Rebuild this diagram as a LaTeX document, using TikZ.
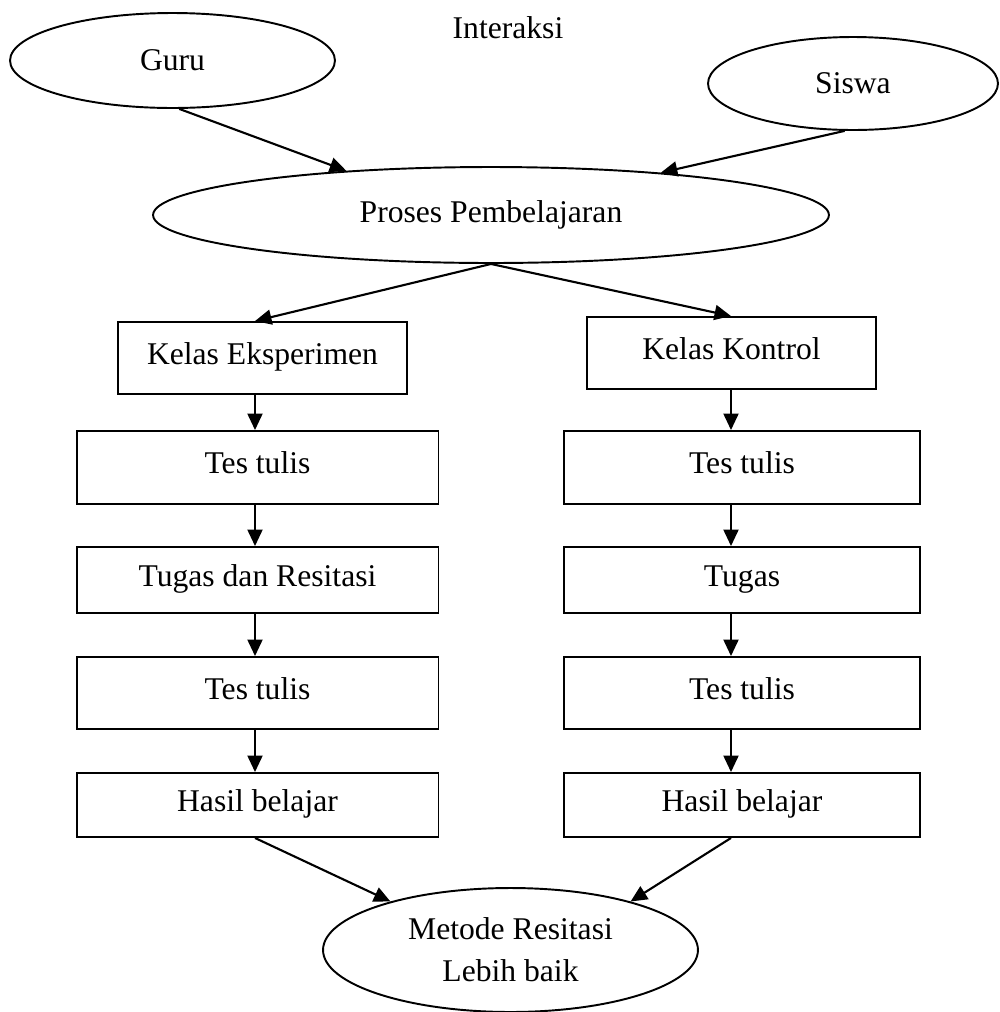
\documentclass[tikz,border=0pt]{standalone}
\usepackage{fontspec}
\setmainfont{Liberation Serif}
\usepackage{tikz}
\usetikzlibrary{shapes.geometric}
\usetikzlibrary{arrows.meta}
\usetikzlibrary{calc}

\begin{document}
\begin{tikzpicture}[x=0.02cm,y=-0.02cm,
		font=\fontsize{18}{24}\selectfont,
		oval/.style={draw,ellipse,line width=1.1pt,inner sep=0pt},
		box/.style={draw,rectangle,line width=1.1pt,inner sep=0pt,text height=0.45cm,text depth=0.2cm},
		arr/.style={line width=1.2pt,-{Triangle[length=0.33cm,width=0.3cm]}}]
			\useasboundingbox (0,0) rectangle (1000,1012);
			%guru, siswa and the process
			\node[oval,minimum width=6.5cm,minimum height=1.9cm] (guru) at (172.5,60.5) {Guru};
			\node (interaksi) at (508,28) {Interaksi};
			\node[oval,minimum width=5.8cm,minimum height=1.86cm] (siswa) at (853,83.5) {Siswa};
			\node[oval,minimum width=13.52cm,minimum height=1.92cm] (pp) at (491,215) {Proses Pembelajaran};
			\draw[arr] (guru.278)--(pp.163);
			\draw[arr] (siswa.260)--(pp.14);
			%column lines
			\coordinate (colL) at (255,0);
			\coordinate (colR) at (731,0);
			%kelas eksperimen
			\node[box,minimum width=5.78cm,minimum height=1.44cm] (ke) at (262.5,358) {Kelas Eksperimen};
			\node[box,minimum width=7.24cm,minimum height=1.46cm] (tl1) at (257.5,467.5) {Tes tulis};
			\node[box,minimum width=7.24cm,minimum height=1.32cm] (tl2) at (257.5,580) {Tugas dan Resitasi};
			\node[box,minimum width=7.24cm,minimum height=1.44cm] (tl3) at (257.5,693) {Tes tulis};
			\node[box,minimum width=7.24cm,minimum height=1.28cm] (hl) at (257.5,805) {Hasil belajar};
			%kelas kontrol
			\node[box,minimum width=5.78cm,minimum height=1.44cm] (kk) at (731.5,353) {Kelas Kontrol};
			\node[box,minimum width=7.12cm,minimum height=1.46cm] (tr1) at (742,467.5) {Tes tulis};
			\node[box,minimum width=7.12cm,minimum height=1.32cm] (tr2) at (742,580) {Tugas};
			\node[box,minimum width=7.12cm,minimum height=1.44cm] (tr3) at (742,693) {Tes tulis};
			\node[box,minimum width=7.12cm,minimum height=1.28cm] (hr) at (742,805) {Hasil belajar};
			\draw[arr] (pp.south)--(colL |- ke.north);
			\draw[arr] (pp.south)--(colR |- kk.north);
			\draw[arr] (colL |- ke.south)--(colL |- tl1.north);
			\draw[arr] (colL |- tl1.south)--(colL |- tl2.north);
			\draw[arr] (colL |- tl2.south)--(colL |- tl3.north);
			\draw[arr] (colL |- tl3.south)--(colL |- hl.north);
			\draw[arr] (colR |- kk.south)--(colR |- tr1.north);
			\draw[arr] (colR |- tr1.south)--(colR |- tr2.north);
			\draw[arr] (colR |- tr2.south)--(colR |- tr3.north);
			\draw[arr] (colR |- tr3.south)--(colR |- hr.north);
			%hasil
			\node[oval,minimum width=7.5cm,minimum height=2.48cm,align=center] (mr) at (510.5,950) {Metode Resitasi\\Lebih baik};
			\draw[arr] (colL |- hl.south)--(mr.158);
			\draw[arr] (colR |- hr.south)--(mr.22);
		\end{tikzpicture}
\end{document}
